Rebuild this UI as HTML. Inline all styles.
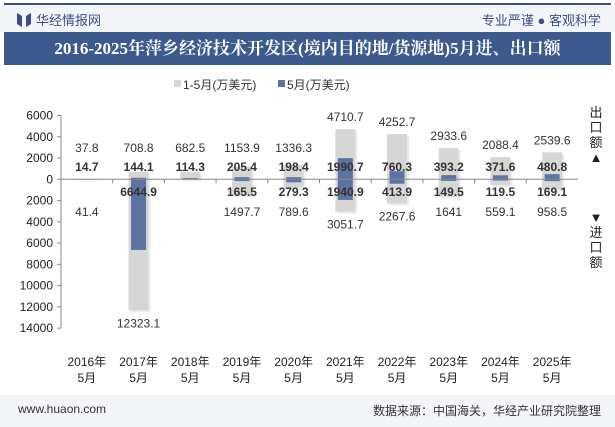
<!DOCTYPE html>
<html><head><meta charset="utf-8"><style>
body{margin:0;width:615px;height:427px;background:#fff;font-family:"Liberation Sans","Noto Sans CJK SC",sans-serif;overflow:hidden;position:relative}
.top{position:absolute;left:4px;right:4px;top:3px;height:2px;background:#3b4f86}
.hdr{position:absolute;left:0;top:5px;width:615px;height:27px;background:#f4f5f8}
.title{position:absolute;left:4px;top:32px;height:33px;background:#3d5a8f;color:#fff;font-weight:bold;font-size:17px;line-height:33px;text-align:center;width:607px;font-family:"Liberation Serif","Noto Serif CJK SC",serif}
.foot{position:absolute;left:0;top:395px;width:615px;height:32px;background:#f4f5f8;font-size:12px;color:#333}
</style></head><body>
<div class="top"></div>
<div class="hdr">
<svg width="14" height="14" style="position:absolute;left:17px;top:8px"><polygon points="0,0 5,3 5,14 0,11" fill="#3b4f86"/><polygon points="14,0 9,3 9,14 14,11" fill="#3b4f86"/></svg>
<span style="position:absolute;left:36px;top:5px;font-size:13px;color:#3b4f86">华经情报网</span>
<span style="position:absolute;right:14px;top:5px;font-size:13px;color:#3b4f86">专业严谨 ● 客观科学</span>
</div>
<div class="title">2016-2025年萍乡经济技术开发区(境内目的地/货源地)5月进、出口额</div>
<svg width="615" height="427" style="position:absolute;left:0;top:0" id="chart"></svg>
<div class="foot">
<span style="position:absolute;left:18px;top:7px">www.huaon.com</span>
<span style="position:absolute;right:14px;top:7px">数据来源：中国海关，华经产业研究院整理</span>
</div>
<script>
const categories=["2016年","2017年","2018年","2019年","2020年","2021年","2022年","2023年","2024年","2025年"];
const exportYtd=[37.8,708.8,682.5,1153.9,1336.3,4710.7,4252.7,2933.6,2088.4,2539.6];
const exportMay=[14.7,144.1,114.3,205.4,198.4,1990.7,760.3,393.2,371.6,480.8];
const importYtd=[41.4,12323.1,0,1497.7,789.6,3051.7,2267.6,1641,559.1,958.5];
const importMay=[0,6644.9,0,165.5,279.3,1940.9,413.9,149.5,119.5,169.1];
const importYtdLabels=["41.4","12323.1","","1497.7","789.6","3051.7","2267.6","1641","559.1","958.5"];
const importMayLabels=["","6644.9","","165.5","279.3","1940.9","413.9","149.5","119.5","169.1"];
const yTicks=[6000,4000,2000,0,-2000,-4000,-6000,-8000,-10000,-12000,-14000];
const yTickLabels=["6000","4000","2000","0","2000","4000","6000","8000","10000","12000","14000"];
const svg=document.getElementById('chart');const NS="http://www.w3.org/2000/svg";
const x0=61,x1=578,yZero=179.3,pxPer=10.63/1000;
const band=(x1-x0)/categories.length;
const y=v=>yZero-v*pxPer;const cx=i=>x0+band*(i+0.5);
function mk(t,a,txt){const e=document.createElementNS(NS,t);for(const k in a)e.setAttribute(k,a[k]);if(txt!==undefined)e.textContent=txt;svg.appendChild(e);return e;}
let e=mk('rect',{x:174,y:80,width:7,height:7,fill:'#d6d6d6'});

e=mk('text',{x:183,y:89,'font-size':12,fill:'#333'},'1-5月(万美元)');

e=mk('rect',{x:278,y:80,width:7,height:7,fill:'#5d74a2'});

e=mk('text',{x:287,y:89,'font-size':12,fill:'#333'},'5月(万美元)');

e=mk('line',{x1:x0,y1:y(6000),x2:x0,y2:y(-14000),stroke:'#888'});

yTicks.forEach((t,i)=>{
 let tk=mk('line',{x1:x0-4,y1:y(t),x2:x0,y2:y(t),stroke:'#888'});
 
 let l=mk('text',{x:x0-8,y:y(t)+4,'font-size':12,fill:'#222','text-anchor':'end'},yTickLabels[i]);
 
});
categories.forEach((c,i)=>{
 const X=cx(i);
 const tE=y(exportYtd[i]),bI=y(-importYtd[i]);
 let s=mk('rect',{x:X-10+2,y:tE+2,width:20,height:Math.max(bI-tE,0),fill:'#ccc',opacity:0.35});
 
 let g=mk('rect',{x:X-10,y:tE,width:20,height:yZero-tE,fill:'#d6d6d6'});
 
 g=mk('rect',{x:X-10,y:yZero,width:20,height:bI-yZero,fill:'#d6d6d6'});
 
 const tM=y(exportMay[i]),bM=y(-importMay[i]);
 let b=mk('rect',{x:X-7.5,y:tM,width:15,height:yZero-tM,fill:'#5d74a2'});
 
 b=mk('rect',{x:X-7.5,y:yZero,width:15,height:bM-yZero,fill:'#5d74a2'});
 
 let t=mk('text',{x:X,y:Math.min(tE-8,152),'font-size':12,fill:'#333','text-anchor':'middle'},String(exportYtd[i]));
 
 t=mk('text',{x:X,y:171,'font-size':12,'font-weight':'bold',fill:'#333','text-anchor':'middle'},String(exportMay[i]));
 
 t=mk('text',{x:X,y:196,'font-size':12,'font-weight':'bold',fill:'#333','text-anchor':'middle'},importMayLabels[i]);
 
 t=mk('text',{x:X,y:Math.max(bI+17,216),'font-size':12,fill:'#333','text-anchor':'middle'},importYtdLabels[i]);
 
 t=mk('text',{x:X,y:366,'font-size':12,fill:'#222','text-anchor':'middle'},c);
 
 t=mk('text',{x:X,y:382,'font-size':12,fill:'#222','text-anchor':'middle'},'5月');
 
 let tk=mk('line',{x1:x0+band*i,y1:yZero,x2:x0+band*i,y2:yZero+4,stroke:'#888'});
 
});
e=mk('line',{x1:x0,y1:yZero,x2:x1,y2:yZero,stroke:'#888'});

["出","口","额","▲"].forEach((ch,k)=>{let t=mk('text',{x:596,y:117+k*15,'font-size':13,fill:'#222','text-anchor':'middle'},ch);
 });
["▼","进","口","额"].forEach((ch,k)=>{let t=mk('text',{x:596,y:222+k*15,'font-size':13,fill:'#222','text-anchor':'middle'},ch);
 });
</script>
</body></html>
